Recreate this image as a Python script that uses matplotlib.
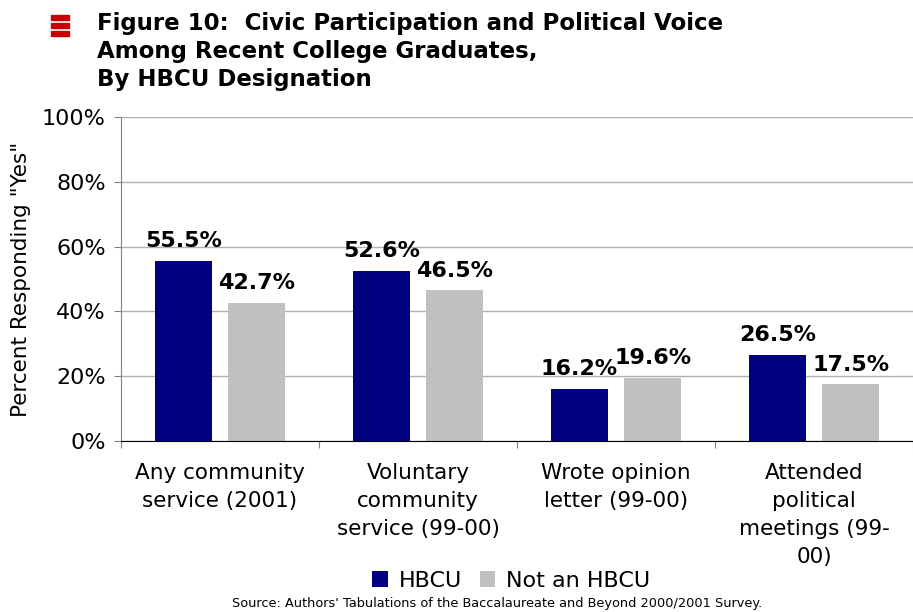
import matplotlib.pyplot as plt
from matplotlib.patches import Rectangle
import numpy as np

categories = ['Any community\nservice (2001)',
              'Voluntary\ncommunity\nservice (99-00)',
              'Wrote opinion\nletter (99-00)',
              'Attended\npolitical\nmeetings (99-\n00)']
hbcu = [55.5, 52.6, 16.2, 26.5]
not_hbcu = [42.7, 46.5, 19.6, 17.5]
yticks = [0, 20, 40, 60, 80, 100]

navy = '#000080'
grey = '#c0c0c0'

fig = plt.figure(figsize=(9.13, 6.12), dpi=100)
ax = fig.add_axes([0.1325, 0.2794, 0.8675, 0.5294])

x = np.arange(len(categories))
w = 0.29
off = 0.185
b1 = ax.bar(x - off, hbcu, w, color=navy, label='HBCU')
b2 = ax.bar(x + off, not_hbcu, w, color=grey, label='Not an HBCU')

for bars, vals in ((b1, hbcu), (b2, not_hbcu)):
    for r, v in zip(bars, vals):
        ax.annotate(f'{v:.1f}%', (r.get_x() + r.get_width() / 2, v),
                    xytext=(0, 7), textcoords='offset points',
                    ha='center', va='bottom', fontsize=16, fontweight='bold')

ax.set_xlim(-0.5, 3.5)
ax.set_ylim(0, 100)
ax.set_yticks(yticks)
ax.set_yticklabels([f'{t}%' for t in yticks], fontsize=16)
ax.yaxis.grid(True, color='#b0b0b0', linewidth=1)
ax.set_axisbelow(True)

# category boundaries get the tick marks, labels sit in the middle
ax.set_xticks(np.arange(-0.5, 4, 1))
ax.set_xticklabels([])
ax.set_xticks(x, minor=True)
ax.set_xticklabels(categories, minor=True, fontsize=15.5, linespacing=1.5, va='top')
ax.tick_params(axis='x', which='minor', length=0, pad=16)
ax.tick_params(axis='x', which='major', length=5, color='#808080', direction='out')
ax.tick_params(axis='y', length=5, color='#808080', pad=6)

for s in ('top', 'right'):
    ax.spines[s].set_visible(False)
ax.spines['left'].set_color('#808080')
ax.spines['bottom'].set_color('black')

ax.set_ylabel('Percent Responding "Yes"', fontsize=15.5, labelpad=8)

fig.legend(handles=[b1, b2], loc='center', bbox_to_anchor=(0.56, 0.051),
           ncol=2, frameon=False, fontsize=16, handlelength=0.7,
           handleheight=0.7, handletextpad=0.5, columnspacing=0.8)

fig.text(0.106, 0.916, 'Figure 10:  Civic Participation and Political Voice\n'
         'Among Recent College Graduates,\nBy HBCU Designation',
         fontsize=16.5, fontweight='bold', va='center', ha='left', linespacing=1.27)

# red stacked-bar marker beside the title
for top in (15, 23, 31):
    fig.add_artist(Rectangle((51 / 913, 1 - (top + 5) / 612), 18 / 913, 5 / 612,
                             transform=fig.transFigure, color='#cc0000'))

fig.text(0.544, 0.003,
         "Source: Authors' Tabulations of the Baccalaureate and Beyond 2000/2001 Survey.",
         fontsize=9.3, ha='center', va='bottom')

fig.savefig('out.png', dpi=100)
